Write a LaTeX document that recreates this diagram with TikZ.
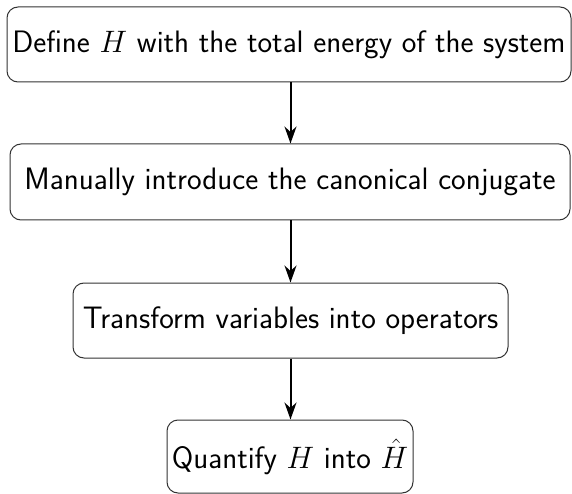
\RequirePackage{fix-cm}
\documentclass[tikz,border=0pt]{standalone}
\usetikzlibrary{arrows.meta}
\begin{document}
\begin{tikzpicture}[x=1pt,y=-1pt,
  stepbox/.style={draw=black!80, line width=1pt, rounded corners=11pt, align=center,
    inner sep=0pt, font=\fontsize{31}{36}\selectfont\sffamily},
  flow/.style={line width=2pt, -{Stealth[length=17pt,width=12pt]}}]
\useasboundingbox (0,0) rectangle (572,494);
\node[stepbox, minimum width=564pt, minimum height=75pt] (a) at (289,44.5) {Define $H$ with the total energy of the system};
\node[stepbox, minimum width=560pt, minimum height=76pt] (b) at (290,182) {Manually introduce the canonical conjugate};
\node[stepbox, minimum width=435pt, minimum height=75pt] (c) at (290.5,320.5) {Transform variables into operators};
\node[stepbox, minimum width=246pt, minimum height=73pt] (d) at (290,456.5) {Quantify $H$ into $\hat{H}$};
\draw[flow] (a.south -| 290.5,0) -- (b.north -| 290.5,0);
\draw[flow] (b.south -| 290.5,0) -- (c.north -| 290.5,0);
\draw[flow] (c.south -| 290.5,0) -- (d.north -| 290.5,0);
\end{tikzpicture}
\end{document}
